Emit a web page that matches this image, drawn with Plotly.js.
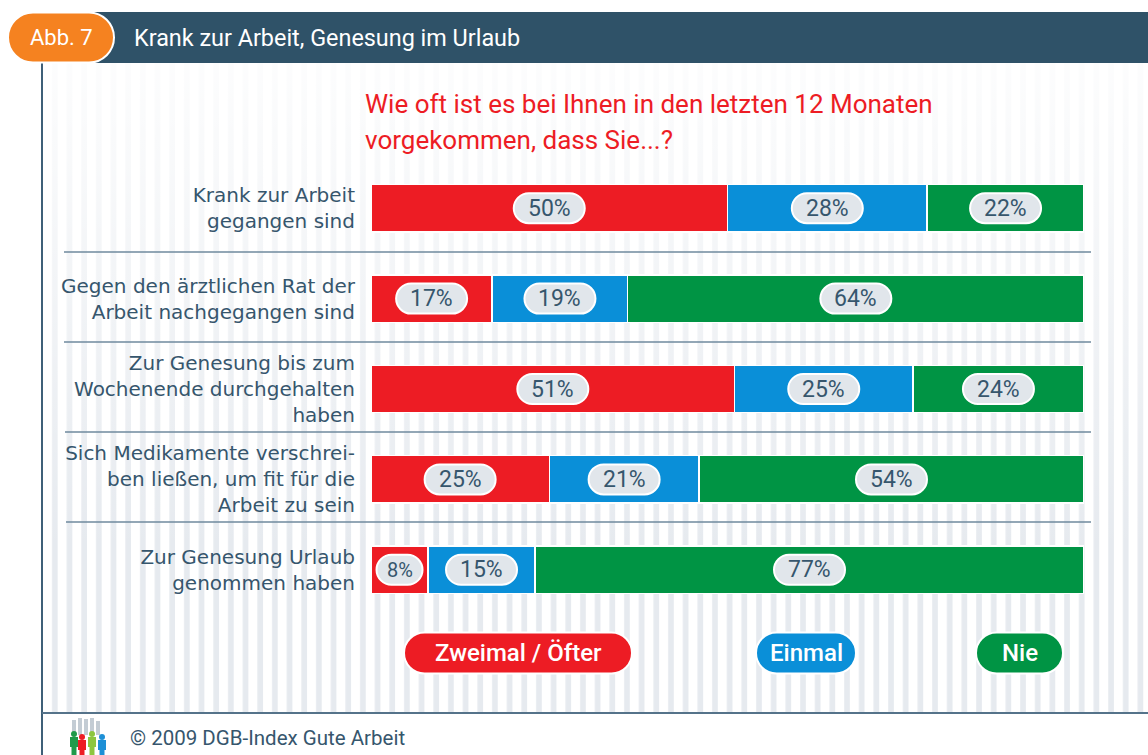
<!DOCTYPE html>
<html lang="de"><head><meta charset="utf-8">
<script src="https://cdn.plot.ly/plotly-3.0.1.min.js"></script>
<style>html,body{margin:0;padding:0;background:#fff;overflow:hidden}#chart{width:1148px;height:755px}</style>
</head><body><div id="chart"></div>
<script>
const categories = [
  "Krank zur Arbeit<br>gegangen sind",
  "Gegen den ärztlichen Rat der<br>Arbeit nachgegangen sind",
  "Zur Genesung bis zum<br>Wochenende durchgehalten<br>haben",
  "Sich Medikamente verschrei-<br>ben ließen, um fit für die<br>Arbeit zu sein",
  "Zur Genesung Urlaub<br>genommen haben"
];
const seriesNames = ["Zweimal / Öfter", "Einmal", "Nie"];
const zweimalOefter = [50, 17, 51, 25, 8];
const einmal = [28, 19, 25, 21, 15];
const nie = [22, 64, 24, 54, 77];
const colors = ["#ed1c24", "#0a8fd8", "#009444"];
const headerTitle = "Krank zur Arbeit, Genesung im Urlaub";
const questionLines = ["Wie oft ist es bei Ihnen in den letzten 12 Monaten", "vorgekommen, dass Sie...?"];
const badge = "Abb. 7";
const footer = "© 2009 DGB-Index Gute Arbeit";

const W = 1148, H = 755, L = 371, R = 64, T = 163, B = 140;
const px = x => (x - L) / (W - L - R);
const py = y => 1 - (y - T) / (H - T - B);
const FONT = "Roboto, sans-serif", INK = "#36566d", NAVY = "#2f5268";

const series = [zweimalOefter, einmal, nie];
const traces = series.map((vals, i) => ({
  type: "bar", orientation: "h", name: seriesNames[i], y: categories, x: vals,
  marker: {color: colors[i], line: {color: "#ffffff", width: 1.5}},
  hoverinfo: "name+x"
}));

const shapes = [], annotations = [];
const box = (x0, y0, x1, y1, fill, extra) => shapes.push(Object.assign({
  type: "rect", xref: "paper", yref: "paper", x0: px(x0), x1: px(x1), y0: py(y0), y1: py(y1),
  fillcolor: fill, line: {width: 0}, layer: "above"}, extra || {}));
const rule = (x0, y0, x1, y1, color, w) => shapes.push({
  type: "line", xref: "paper", yref: "paper", x0: px(x0), x1: px(x1), y0: py(y0), y1: py(y1),
  line: {color, width: w}, layer: "above"});
const pillPath = (w, h) => {
  const r = h / 2, a = w / 2 - r, k = r * 0.5523;
  return `M ${-a} ${-r} L ${a} ${-r} C ${a + k} ${-r} ${a + r} ${-k} ${a + r} 0 C ${a + r} ${k} ${a + k} ${r} ${a} ${r} ` +
         `L ${-a} ${r} C ${-a - k} ${r} ${-a - r} ${k} ${-a - r} 0 C ${-a - r} ${-k} ${-a - k} ${-r} ${-a} ${-r} Z`;
};
const label = (x, y, text, size, color, anchor, weight) => annotations.push({
  xref: "paper", yref: "paper", x: px(x), y: py(y), text, showarrow: false,
  xanchor: anchor || "left", yanchor: "middle",
  font: {family: FONT, size, color, weight: weight || 400}});

// header band and frame
box(90, 12, W, 63, NAVY);
rule(42, 63, 42, H, "#3f6078", 2);
rule(42, 713, W, 713, "#55738a", 2);
// orange badge
shapes.push({type: "path", xref: "paper", yref: "paper", xsizemode: "pixel", ysizemode: "pixel",
  xanchor: px(61), yanchor: py(37.5), path: pillPath(106, 50), fillcolor: "#f58220",
  line: {color: "#ffffff", width: 2}, layer: "above"});
label(61, 38, badge, 22, "#ffffff", "center");
// question
questionLines.forEach((t, i) => label(363, 104 + i * 36, t, 26, "#ed1c24"));
// separators between rows
[[64, 1091, 252], [64, 1091, 342], [65, 1091, 432], [66, 1091, 522]].forEach(s => rule(s[0], s[2], s[1], s[2], "#6f8a9e", 1.5));

// value pills centred on each segment through the data axes
categories.forEach((c, r) => {
  let cum = 0;
  series.forEach(vals => {
    const v = vals[r], mid = cum + v / 2;
    cum += v;
    shapes.push({type: "path", xref: "x", yref: "y", xsizemode: "pixel", ysizemode: "pixel",
      xanchor: mid, yanchor: c, path: pillPath(v < 10 ? 46 : 71, 30), fillcolor: "#e1e6eb",
      line: {color: "#ffffff", width: 2}, layer: "above"});
    annotations.push({xref: "x", yref: "y", x: mid, y: c, text: v + "%", showarrow: false,
      xanchor: "center", yanchor: "middle", font: {family: FONT, size: v < 10 ? 20 : 23, color: INK}});
  });
});

// legend pills
[[404, 632], [756, 856], [976, 1063]].forEach((p, i) => {
  const cx = (p[0] + p[1]) / 2;
  shapes.push({type: "path", xref: "paper", yref: "paper", xsizemode: "pixel", ysizemode: "pixel",
    xanchor: px(cx), yanchor: py(653), path: pillPath(p[1] - p[0], 41), fillcolor: colors[i],
    line: {color: "#ffffff", width: 2}, layer: "above"});
  label(cx, 653, seriesNames[i], 24, "#ffffff", "center", 500);
});

// footer logo
[[74, "#c3ccd4", 720], [80, "#c3ccd4", 718], [86, "#c3ccd4", 719], [92, "#c3ccd4", 718], [98, "#c3ccd4", 721]]
  .forEach(g => box(g[0] - 2, g[2], g[0] + 2, 735, g[1]));
[[74, "#1f9a4a", 742], [82, "#ed1c24", 745], [92, "#8dc63f", 742], [102, "#1e90d6", 745]].forEach(g => {
  shapes.push({type: "circle", xref: "paper", yref: "paper", x0: px(g[0] - 3), x1: px(g[0] + 3),
    y0: py(g[2] - 11), y1: py(g[2] - 5), fillcolor: g[1], line: {width: 0}, layer: "above"});
  box(g[0] - 4, g[2] - 5, g[0] + 4, g[2] + 5, g[1]);
  box(g[0] - 2.5, g[2] + 5, g[0] + 2.5, 755, g[1]);
});
label(128, 738, footer, 20.5, INK);

// faint vertical stripes fading in towards the bottom
const stripes = `<svg xmlns="http://www.w3.org/2000/svg" width="1105" height="650">
<defs><pattern id="p" width="14.67" height="650" patternUnits="userSpaceOnUse"><rect x="9" width="8" height="650" fill="#e6eaef"/></pattern>
<linearGradient id="g" x1="0" y1="0" x2="0" y2="1"><stop offset="0" stop-color="#fff" stop-opacity="0.9"/><stop offset="0.75" stop-color="#fff" stop-opacity="0"/></linearGradient></defs>
<rect width="1105" height="650" fill="url(#p)"/><rect width="1105" height="650" fill="url(#g)"/></svg>`;

Plotly.newPlot("chart", traces, {
  width: W, height: H, barmode: "stack", bargap: 0.475, showlegend: false,
  margin: {l: L, r: R, t: T, b: B, pad: 0},
  paper_bgcolor: "#ffffff", plot_bgcolor: "rgba(0,0,0,0)",
  title: {text: headerTitle, x: 134 / W, xanchor: "left", xref: "container", y: 1 - 38 / H, yanchor: "middle",
    font: {family: FONT, size: 23.4, color: "#ffffff"}},
  xaxis: {range: [0, 100], visible: false, fixedrange: true},
  yaxis: {type: "category", categoryorder: "array", categoryarray: categories, autorange: false, range: [4.5, -0.5],
    showgrid: false, zeroline: false, showline: false, ticks: "outside", ticklen: 11, tickcolor: "rgba(0,0,0,0)",
    tickfont: {family: "'DejaVu Sans', sans-serif", size: 20, color: INK}, fixedrange: true},
  images: [{source: "data:image/svg+xml;charset=utf-8," + encodeURIComponent(stripes),
    xref: "paper", yref: "paper", x: px(43), y: py(63), sizex: px(W) - px(43), sizey: py(63) - py(713),
    sizing: "stretch", xanchor: "left", yanchor: "top", layer: "below"}],
  shapes, annotations
}, {displayModeBar: false, staticPlot: false});
</script></body></html>
